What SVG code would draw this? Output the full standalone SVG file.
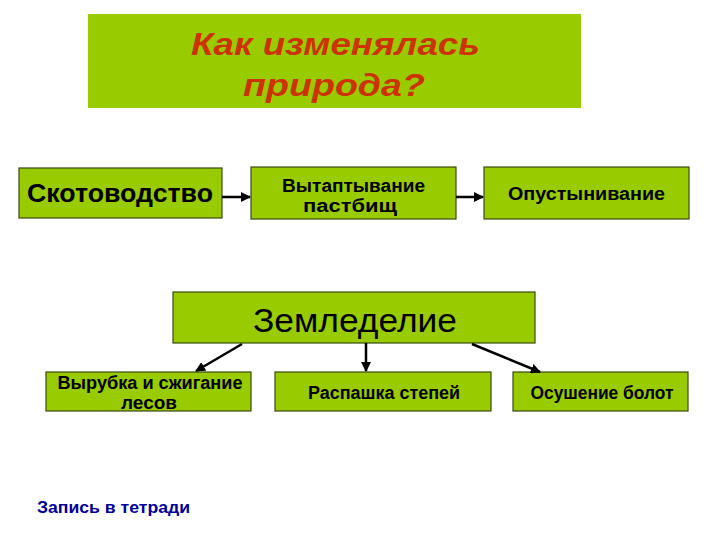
<svg xmlns="http://www.w3.org/2000/svg" width="720" height="540" viewBox="0 0 720 540">
<defs>
<style>
.box{fill:#99CC00;stroke:#3a4a10;stroke-width:1.2}
.t{font-family:"Liberation Sans",Arial,sans-serif;fill:#000;text-anchor:middle}
.b{font-weight:bold}
.c{stroke:#000;stroke-width:2.5;fill:none}
.s{font-size:18px;font-weight:bold}
.m{font-size:18px;font-weight:bold}
</style>
<marker id="ah" viewBox="0 0 10 10" refX="9" refY="5" markerWidth="4" markerHeight="4" orient="auto" markerUnits="strokeWidth">
<path d="M0,0 L10,5 L0,10 z" fill="#000"/>
</marker>
</defs>
<rect width="720" height="540" fill="#fff"/>
<g id="title">
<rect x="88" y="14" width="493" height="94" fill="#99CC00"/>
<text x="335.5" y="55" class="t b" font-size="31" font-style="italic" textLength="289" lengthAdjust="spacingAndGlyphs" style="fill:#CC3300">Как изменялась</text>
<text x="334" y="96" class="t b" font-size="31" font-style="italic" textLength="182" lengthAdjust="spacingAndGlyphs" style="fill:#CC3300">природа?</text>
</g>
<g id="n1">
<rect class="box" x="19" y="168" width="203" height="50"/>
<text x="120" y="202" class="t b" font-size="26" textLength="186" lengthAdjust="spacingAndGlyphs">Скотоводство</text>
</g>
<g id="n2">
<rect class="box" x="251" y="167" width="205" height="52"/>
<text x="353.5" y="192" class="t m" textLength="143" lengthAdjust="spacingAndGlyphs">Вытаптывание</text>
<text x="350" y="212" class="t m" textLength="94" lengthAdjust="spacingAndGlyphs">пастбищ</text>
</g>
<g id="n3">
<rect class="box" x="484" y="167" width="205" height="52"/>
<text x="586.5" y="200" class="t m" textLength="157" lengthAdjust="spacingAndGlyphs">Опустынивание</text>
</g>
<g id="n4">
<rect class="box" x="173" y="292" width="362" height="51"/>
<text x="355" y="332" class="t" font-size="33" textLength="204" lengthAdjust="spacingAndGlyphs">Земледелие</text>
</g>
<g id="n5">
<rect class="box" x="46" y="372" width="205" height="39"/>
<text x="150" y="389" class="t s" textLength="185" lengthAdjust="spacingAndGlyphs">Вырубка и сжигание</text>
<text x="149" y="409" class="t s" textLength="56" lengthAdjust="spacingAndGlyphs">лесов</text>
</g>
<g id="n6">
<rect class="box" x="275" y="372" width="216" height="39"/>
<text x="384" y="399" class="t s" textLength="152" lengthAdjust="spacingAndGlyphs">Распашка степей</text>
</g>
<g id="n7">
<rect class="box" x="513" y="372" width="175" height="39"/>
<text x="602" y="399" class="t s" textLength="143" lengthAdjust="spacingAndGlyphs">Осушение болот</text>
</g>
<g id="connectors">
<line class="c" x1="222" y1="197" x2="250" y2="197" marker-end="url(#ah)"/>
<line class="c" x1="456" y1="197" x2="483" y2="197" marker-end="url(#ah)"/>
<line class="c" x1="242" y1="344" x2="196" y2="371" marker-end="url(#ah)"/>
<line class="c" x1="366" y1="343" x2="366" y2="371" marker-end="url(#ah)"/>
<line class="c" x1="472" y1="344" x2="540" y2="372" marker-end="url(#ah)"/>
</g>
<text x="37" y="513" font-family="Liberation Sans,Arial,sans-serif" font-weight="bold" font-size="16" textLength="153" lengthAdjust="spacingAndGlyphs" fill="#000099">Запись в тетради</text>
</svg>
